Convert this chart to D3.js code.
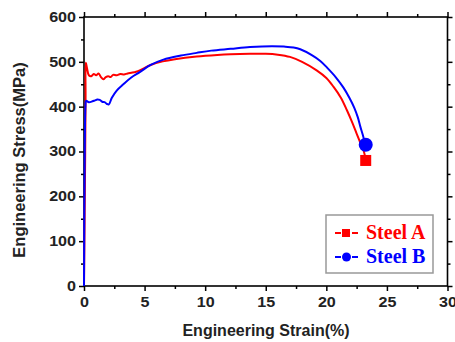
<html lang="en">
<head>
<meta charset="UTF-8">
<title>Engineering stress-strain</title>
<script src="https://d3js.org/d3.v7.min.js"></script>
<style>
  body { margin: 0; background: #fff; }
</style>
</head>
<body>
<div id="chart"></div>
<script>
// Steel A (red)
const strainA = [0, 0.1, 0.13, 0.15, 0.25, 0.4, 0.6, 0.8, 1.0, 1.2, 1.4, 1.6, 1.8, 2.0, 2.2, 2.4, 2.7, 3.0, 3.3, 3.6, 4.0, 4.3, 4.6,
  5.5, 6.5, 7.5, 9.3, 11, 12.1, 13.7, 15, 16, 17, 18, 19.2, 20, 20.6, 21.2, 21.7, 22.1, 22.5, 22.8, 23.1, 23.25];
const stressA = [0, 300, 420, 498, 486, 470, 468, 473, 470, 474, 466, 461, 466, 468, 466, 471, 470, 473, 472, 474, 476, 478, 481,
  493, 501, 506, 512, 515.5, 517, 518, 518, 516, 511, 500, 481, 464, 444, 420, 392, 367, 340, 320, 300, 280];
// Steel B (blue)
const strainB = [0, 0.05, 0.12, 0.17, 0.4, 0.7, 0.9, 1.1, 1.3, 1.5, 1.7, 1.9, 2.05, 2.3, 2.7, 3.25, 3.9, 4.6, 5.5, 6.55, 8, 9.3,
  10.5, 12.1, 13.7, 15.5, 16.5, 17.3, 17.85, 18.8, 19.5, 20.06, 20.8, 21.4, 21.9, 22.3, 22.6, 22.8, 23.0, 23.2];
const stressB = [0, 260, 400, 413, 410, 412, 414, 416, 415, 411, 410, 406, 405, 420, 436, 450, 465, 477, 493, 505, 514, 520,
  525, 529, 533, 535, 534, 532, 528, 515, 502, 487, 465, 443, 420, 398, 376, 356, 338, 318];
// end-point markers
const endA = [23.25, 280];
const endB = [23.25, 315];

const xTicks = [0, 5, 10, 15, 20, 25, 30];
const xMinor = [2.5, 7.5, 12.5, 17.5, 22.5, 27.5];
const yTicks = [0, 100, 200, 300, 400, 500, 600];
const yMinor = [50, 150, 250, 350, 450, 550];

const W = 455, H = 342;
const plotL = 84, plotR = 447.5, plotT = 17, plotB = 286;
const sans = "'Liberation Sans', Arial, sans-serif";

const svg = d3.select("#chart").append("svg")
  .attr("width", W).attr("height", H);

const x = d3.scaleLinear().domain([0, 30]).range([plotL, plotR]);
const y = d3.scaleLinear().domain([0, 600]).range([plotB, plotT]);

// tick labels in the original are a bit wide for their height
function stretch(sel, k) {
  sel.each(function () {
    const w = this.getComputedTextLength();
    d3.select(this).attr("textLength", w * k).attr("lengthAdjust", "spacingAndGlyphs");
  });
}

function styleAxis(g) {
  g.select(".domain").remove();
  g.selectAll("line").attr("stroke", "#000").attr("stroke-width", 1.5);
  g.selectAll("text").style("font-family", sans).attr("font-size", 14)
    .attr("font-weight", "bold").attr("fill", "#222").call(stretch, 1.15);
}

// major + minor ticks on all four sides, outward
svg.append("g").attr("transform", `translate(0,${plotB})`)
  .call(d3.axisBottom(x).tickValues(xTicks).tickSize(5).tickPadding(6)).call(styleAxis);
svg.append("g").attr("transform", `translate(0,${plotB})`)
  .call(d3.axisBottom(x).tickValues(xMinor).tickSize(3).tickFormat("")).call(styleAxis);
svg.append("g").attr("transform", `translate(0,${plotT})`)
  .call(d3.axisTop(x).tickValues(xTicks).tickSize(5).tickFormat("")).call(styleAxis);
svg.append("g").attr("transform", `translate(0,${plotT})`)
  .call(d3.axisTop(x).tickValues(xMinor).tickSize(3).tickFormat("")).call(styleAxis);

svg.append("g").attr("transform", `translate(${plotL},0)`)
  .call(d3.axisLeft(y).tickValues(yTicks).tickSize(5).tickPadding(3)).call(styleAxis);
svg.append("g").attr("transform", `translate(${plotL},0)`)
  .call(d3.axisLeft(y).tickValues(yMinor).tickSize(3).tickFormat("")).call(styleAxis);
svg.append("g").attr("transform", `translate(${plotR},0)`)
  .call(d3.axisRight(y).tickValues(yTicks).tickSize(5).tickFormat("")).call(styleAxis);
svg.append("g").attr("transform", `translate(${plotR},0)`)
  .call(d3.axisRight(y).tickValues(yMinor).tickSize(3).tickFormat("")).call(styleAxis);

// frame
svg.append("rect")
  .attr("x", plotL).attr("y", plotT)
  .attr("width", plotR - plotL).attr("height", plotB - plotT)
  .attr("fill", "none").attr("stroke", "#000").attr("stroke-width", 1.6);

const line = d3.line()
  .x(d => x(d[0])).y(d => y(d[1]))
  .curve(d3.curveCatmullRom.alpha(0.5));

svg.append("path")
  .datum(d3.zip(strainA, stressA))
  .attr("d", line)
  .attr("fill", "none").attr("stroke", "#ff0000").attr("stroke-width", 2);

svg.append("path")
  .datum(d3.zip(strainB, stressB))
  .attr("d", line)
  .attr("fill", "none").attr("stroke", "#0000ff").attr("stroke-width", 2);

svg.append("rect")
  .attr("x", x(endA[0]) - 5.5).attr("y", y(endA[1]) - 5.5)
  .attr("width", 11).attr("height", 11).attr("fill", "#ff0000");
svg.append("circle")
  .attr("cx", x(endB[0])).attr("cy", y(endB[1])).attr("r", 7)
  .attr("fill", "#0000ff");

// axis titles
svg.append("text")
  .attr("x", 266).attr("y", 336)
  .attr("text-anchor", "middle")
  .style("font-family", sans)
  .attr("font-size", 16).attr("font-weight", "bold").attr("fill", "#222")
  .text("Engineering Strain(%)");

svg.append("text")
  .attr("transform", "translate(25,160) rotate(-90)")
  .attr("text-anchor", "middle")
  .style("font-family", sans)
  .attr("font-size", 16.5).attr("font-weight", "bold").attr("fill", "#222")
  .text("Engineering Stress(MPa)");

// legend
const legend = svg.append("g");
legend.append("rect")
  .attr("x", 326).attr("y", 215).attr("width", 107).attr("height", 58)
  .attr("fill", "#fff").attr("stroke", "#999").attr("stroke-width", 1.5);

const entries = [
  { name: "Steel A", color: "#ff0000", shape: "square", y: 233 },
  { name: "Steel B", color: "#0000ff", shape: "circle", y: 257 }
];
entries.forEach(e => {
  [[335, 341], [352, 358]].forEach(s => {
    legend.append("line")
      .attr("x1", s[0]).attr("x2", s[1]).attr("y1", e.y).attr("y2", e.y)
      .attr("stroke", e.color).attr("stroke-width", 2);
  });
  if (e.shape === "square") {
    legend.append("rect").attr("x", 342).attr("y", e.y - 4)
      .attr("width", 8).attr("height", 8).attr("fill", e.color);
  } else {
    legend.append("circle").attr("cx", 346.5).attr("cy", e.y).attr("r", 4.5)
      .attr("fill", e.color);
  }
  legend.append("text")
    .attr("x", 366).attr("y", e.y + 6)
    .style("font-family", "'Liberation Serif', 'Times New Roman', serif")
    .attr("font-size", 20).attr("font-weight", "bold").attr("fill", e.color)
    .text(e.name);
});
</script>
</body>
</html>
